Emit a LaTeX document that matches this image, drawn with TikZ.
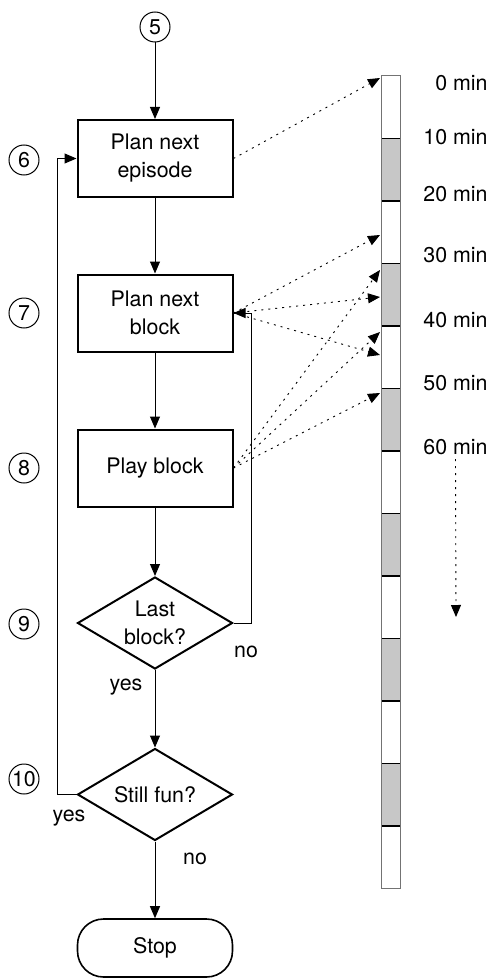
\documentclass[tikz,border=0pt]{standalone}
\usepackage{fontspec}
\setmainfont{TeX Gyre Heros}
\usetikzlibrary{shapes.geometric,arrows.meta}

\tikzset{
	every node/.style={font=\fontsize{10.7}{14}\selectfont},
	stepbox/.style={draw, line width=1pt, minimum width=77.5pt, minimum height=38.5pt, align=center, inner sep=0pt},
	decide/.style={draw, diamond, line width=1pt, aspect=1.68, minimum width=77.5pt, minimum height=46pt, align=center, inner sep=0pt},
	stopbox/.style={draw, line width=0.8pt, rounded corners=13pt, minimum width=77.5pt, minimum height=29pt},
	num/.style={draw, circle, line width=0.5pt, minimum size=15pt, inner sep=0pt},
	flow/.style={-{Triangle[length=6pt,width=5pt]}, line width=0.5pt},
	timing/.style={-{Triangle[length=6pt,width=5pt]}, line width=0.45pt, dash pattern=on 1pt off 2.5pt},
	minlabel/.style={anchor=east, inner sep=0pt},
}

\begin{document}
\begin{tikzpicture}[x=0.5pt, y=-0.5pt]
	\useasboundingbox (0,0) rectangle (491,979);

	% time bar
	\foreach \i in {1,3,...,11}
		\fill[black!22] (381.5,{76+62.5*\i}) rectangle (400,{76+62.5*(\i+1)});
	\foreach \i in {1,...,12}
		\draw[line width=0.6pt] (381.5,{76+62.5*\i}) -- (400,{76+62.5*\i});
	\draw[black!55, line width=0.5pt] (381.5,76) rectangle (400,888.5);

	% minute labels
	\foreach \m/\y in {0/83,10/137,20/194,30/255,40/320,50/383,60/447}
		\node[minlabel] (l\m) at (488,\y) {\m\ min};

	% arrow targets on the bar
	\foreach \m/\y in {0/78,25/235,31/270,35/297,41/332,45/355,51/393}
		\coordinate (t\m) at (380,\y);
	\coordinate (tend) at (456,617);

	% flow chart
	\node[num] (c5) at (155,27) {5};
	\node[stepbox] (ep) at (155,158.5) {Plan next\\episode};
	\node[stepbox] (blk) at (155,313) {Plan next\\block};
	\node[stepbox] (play) at (155,468) {Play block};
	\node[decide] (last) at (155,623) {Last\\block?};
	\node[decide] (fun) at (155,794.5) {Still fun?};
	\node[stopbox] (stop) at (155,948) {Stop};

	% step numbers
	\node[num] (c6) at (24,160) {6};
	\node[num] (c7) at (24,313) {7};
	\node[num] (c8) at (24,468) {8};
	\node[num] (c9) at (24,624) {9};
	\node[num] (c10) at (24,779) {10};

	% answers
	\node (lno) at (246,652) {no};
	\node (lyes) at (126,687) {yes};
	\node (fyes) at (69,818) {yes};
	\node (fno) at (195,859) {no};

	% arrows
	\draw[flow] (c5) -- (ep);
	\draw[flow] (ep) -- (blk);
	\draw[flow] (blk) -- (play);
	\draw[flow] (play) -- (last);
	\draw[flow] (last) -- (fun);
	\draw[flow] (fun) -- (stop);
	\draw[flow] (last.east) -- ++(18,0) |- (blk.east);
	\draw[flow] (fun.west) -- ++(-19,0) |- (ep.west);

	% dotted links to the bar
	\draw[timing] (ep.east) -- (t0);
	\foreach \m in {25,35,45}
		\draw[timing] (blk.east) -- (t\m);
	\foreach \m in {31,41,51}
		\draw[timing] (play.east) -- (t\m);
	\draw[timing, shorten <=2pt] (l60.south) -- (tend);
\end{tikzpicture}
\end{document}
